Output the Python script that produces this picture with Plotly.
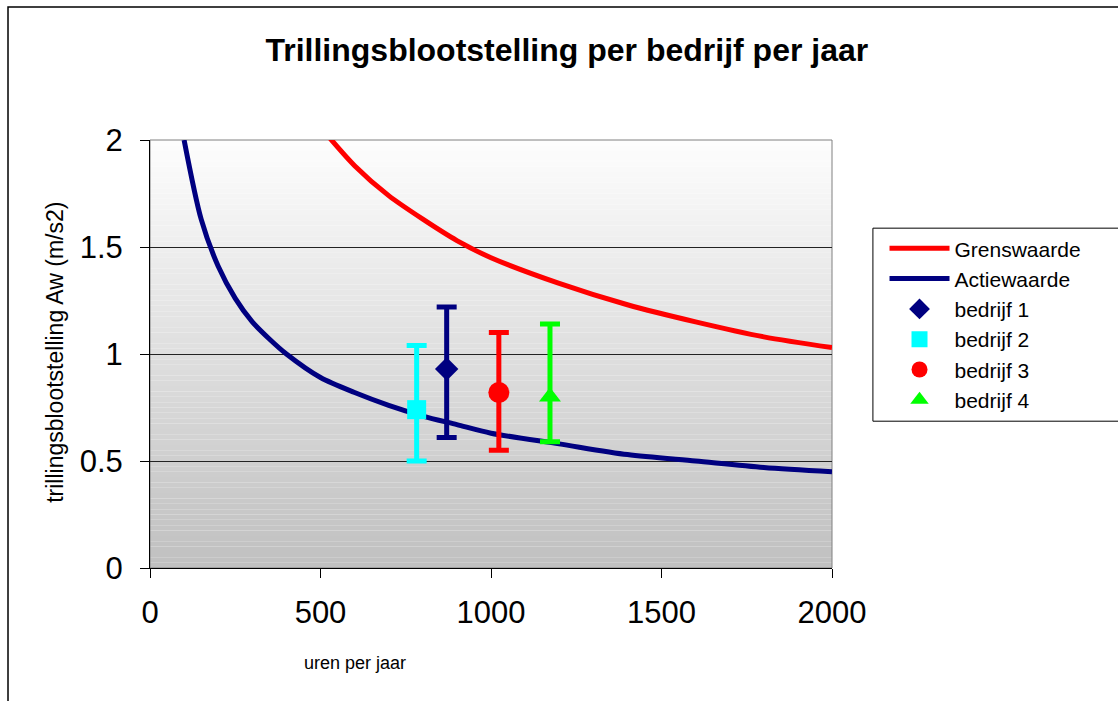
import plotly.graph_objects as go

# ---- data ----
hours_actie = [100, 150, 200, 250, 300, 350, 400, 500, 600, 700, 800, 900, 1000, 1200, 1400, 1600, 1800, 2000]
actiewaarde = [2.00, 1.63, 1.41, 1.26, 1.15, 1.07, 1.00, 0.89, 0.82, 0.76, 0.71, 0.67, 0.63, 0.58, 0.53, 0.50, 0.47, 0.45]
hours_grens = [500, 600, 700, 800, 900, 1000, 1200, 1400, 1600, 1800, 2000]
grenswaarde = [2.06, 1.88, 1.74, 1.63, 1.53, 1.45, 1.33, 1.23, 1.15, 1.08, 1.03]

bedrijf_names = ["bedrijf 1", "bedrijf 2", "bedrijf 3", "bedrijf 4"]
bedrijf_hours = [870, 782, 1023, 1173]
bedrijf_aw = [0.93, 0.74, 0.82, 0.80]
bedrijf_low = [0.61, 0.50, 0.55, 0.59]
bedrijf_high = [1.22, 1.04, 1.10, 1.14]
bedrijf_colors = ["#000080", "#00FFFF", "#FF0000", "#00FF00"]
bedrijf_symbols = ["diamond", "square", "circle", "triangle-up"]
bedrijf_sizes = [18, 19, 21, 19]

x_ticks = [0, 500, 1000, 1500, 2000]
y_ticks = [0, 0.5, 1, 1.5, 2]
y_ticktext = ["0", "0.5", "1", "1.5", "2"]

FONT = "Liberation Sans, Arial, sans-serif"

fig = go.Figure()
fig.add_trace(go.Scatter(x=hours_grens, y=grenswaarde, mode="lines", name="Grenswaarde",
                         line=dict(color="#FF0000", width=5, shape="spline", smoothing=0.8)))
fig.add_trace(go.Scatter(x=hours_actie, y=actiewaarde, mode="lines", name="Actiewaarde",
                         line=dict(color="#000080", width=5, shape="spline", smoothing=0.8)))
for n, h, a, lo, hi, c, s, sz in zip(bedrijf_names, bedrijf_hours, bedrijf_aw, bedrijf_low,
                                     bedrijf_high, bedrijf_colors, bedrijf_symbols, bedrijf_sizes):
    fig.add_trace(go.Scatter(
        x=[h], y=[a], mode="markers", name=n,
        marker=dict(color=c, symbol=s, size=sz, line=dict(width=0)),
        error_y=dict(type="data", symmetric=False, array=[hi - a], arrayminus=[a - lo],
                     color=c, thickness=5, width=10),
        cliponaxis=False,
    ))

# gradient plot background
N = 80
shapes = []
for i in range(N):
    t = i / (N - 1)
    v = int(round(0xFD - (0xFD - 0xC0) * t))
    col = f"rgb({v},{v},{v})"
    shapes.append(dict(type="rect", xref="x domain", yref="y domain",
                       x0=0, x1=1, y0=1 - (i + 1) / N, y1=1 - i / N,
                       fillcolor=col, line=dict(width=0), layer="below"))
# plot area border (grey)
shapes.append(dict(type="rect", xref="x domain", yref="y domain", x0=0, x1=1, y0=0, y1=1,
                   line=dict(color="#808080", width=1), layer="below"))
# outer chart border
shapes.append(dict(type="rect", xref="paper", yref="paper", x0=-0.2082, x1=1.6, y0=-0.6, y1=1.311,
                   line=dict(color="#000000", width=1.5)))
# legend frame
shapes.append(dict(type="rect", xref="paper", yref="paper", x0=1.060, x1=1.6, y0=0.343, y1=0.794,
                   line=dict(color="#000000", width=1), fillcolor="rgba(0,0,0,0)"))

annotations = [
    dict(text="uren per jaar", xref="paper", yref="paper", x=0.30, y=-0.222,
         xanchor="center", yanchor="middle", showarrow=False,
         font=dict(family=FONT, size=18, color="black")),
    dict(text="trillingsblootstelling Aw (m/s2)", xref="paper", yref="paper",
         x=-0.1393, y=0.505, xanchor="center", yanchor="middle", textangle=-90,
         showarrow=False, font=dict(family=FONT, size=23, color="black")),
]

fig.update_layout(
    width=1118, height=701,
    margin=dict(l=150, r=286, t=140, b=133, autoexpand=False),
    paper_bgcolor="white", plot_bgcolor="rgba(0,0,0,0)",
    shapes=shapes, annotations=annotations,
    title=dict(text="<b>Trillingsblootstelling per bedrijf per jaar</b>",
               x=0.507, xanchor="center", y=0.929, yanchor="middle",
               font=dict(family=FONT, size=32, color="black")),
    showlegend=True,
    legend=dict(x=1.077, y=0.794, xanchor="left", yanchor="top",
                borderwidth=0, bgcolor="rgba(0,0,0,0)",
                font=dict(family=FONT, size=21, color="black"),
                tracegroupgap=0, itemwidth=60),
    font=dict(family=FONT, color="black"),
)
fig.update_xaxes(range=[0, 2000], tickvals=x_ticks, ticktext=[str(v) for v in x_ticks],
                 showgrid=False, zeroline=False, showline=True, linecolor="black", linewidth=1,
                 ticks="outside", ticklen=9, tickcolor="black", ticklabelstandoff=8,
                 automargin=False,
                 tickfont=dict(family=FONT, size=31, color="black"))
fig.update_yaxes(range=[0, 2], tickvals=y_ticks, ticktext=y_ticktext,
                 showgrid=True, gridcolor="#222222", gridwidth=1, zeroline=False,
                 showline=True, linecolor="black", linewidth=1,
                 ticks="outside", ticklen=9, tickcolor="black", ticklabelstandoff=11,
                 automargin=False,
                 tickfont=dict(family=FONT, size=31, color="black"))

fig.write_html("out.html", config={"displayModeBar": False},
               post_script="document.body.style.margin='0';")
